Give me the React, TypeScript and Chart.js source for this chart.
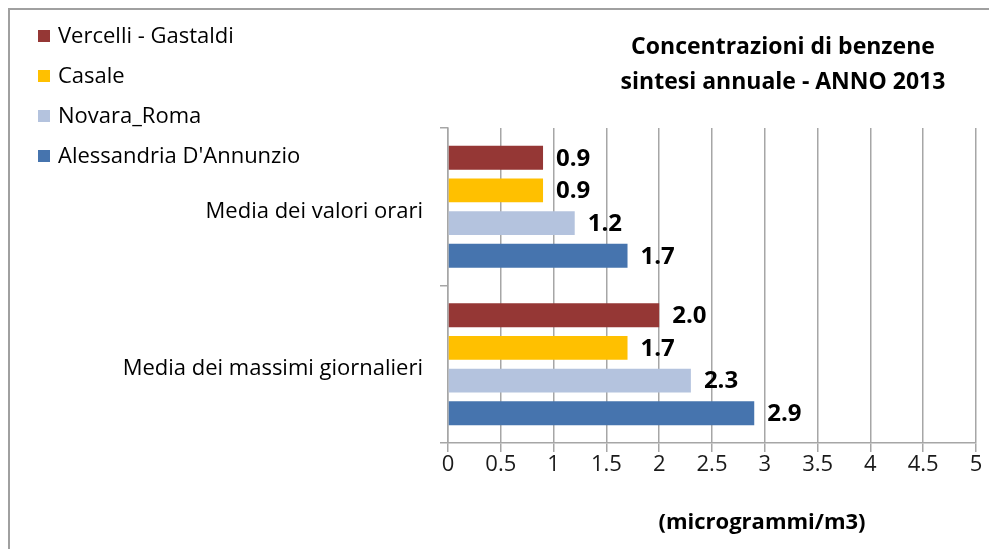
import React, { useEffect, useRef } from "react";
import { Chart, registerables } from "chart.js";

Chart.register(...registerables);

const categories = ["Media dei valori orari", "Media dei massimi giornalieri"];
const seriesNames = ["Vercelli - Gastaldi", "Casale", "Novara_Roma", "Alessandria D'Annunzio"];
const vercelliValues = [0.9, 2.0];
const casaleValues = [0.9, 1.7];
const novaraValues = [1.2, 2.3];
const alessandriaValues = [1.7, 2.9];
const seriesColors = ["#953735", "#FFC000", "#B4C3DE", "#4674AE"];
const xTickValues = [0, 0.5, 1, 1.5, 2, 2.5, 3, 3.5, 4, 4.5, 5];
const titleLines = ["Concentrazioni di benzene", "sintesi annuale - ANNO 2013"];
const axisTitle = "(microgrammi/m3)";

const FONT = "'Open Sans', sans-serif";

const decorPlugin = {
  id: "decor",
  beforeDraw(chart: any) {
    const ctx = chart.ctx;
    ctx.save();
    ctx.fillStyle = "#ffffff";
    ctx.fillRect(0, 0, chart.width, chart.height);
    ctx.strokeStyle = "#a0a0a0";
    ctx.lineWidth = 2;
    ctx.beginPath();
    ctx.moveTo(1, chart.height);
    ctx.lineTo(1, 1);
    ctx.lineTo(chart.width, 1);
    ctx.stroke();
    ctx.restore();
  },
  afterDatasetsDraw(chart: any) {
    const ctx = chart.ctx;
    ctx.save();
    ctx.font = `bold 24px ${FONT}`;
    ctx.fillStyle = "#000000";
    ctx.textBaseline = "middle";
    ctx.textAlign = "left";
    chart.data.datasets.forEach((ds: any, i: number) => {
      const meta = chart.getDatasetMeta(i);
      meta.data.forEach((el: any, j: number) => {
        const v = ds.data[j];
        ctx.fillText(Number(v).toFixed(1), el.x + 13, el.y + 1);
      });
    });
    ctx.restore();
  },
  afterDraw(chart: any) {
    const ctx = chart.ctx;
    ctx.save();
    // legend
    ctx.font = `22px ${FONT}`;
    ctx.textBaseline = "middle";
    ctx.textAlign = "left";
    seriesNames.forEach((name, i) => {
      const cy = 28 + i * 40;
      ctx.fillStyle = seriesColors[i];
      ctx.fillRect(30, cy - 6, 12, 12);
      ctx.fillStyle = "#000000";
      ctx.fillText(name, 50, cy + 1);
    });
    // title
    ctx.font = `bold 23px ${FONT}`;
    ctx.textAlign = "center";
    titleLines.forEach((line, i) => {
      ctx.fillText(line, 775, 39 + i * 35);
    });
    // axis title
    ctx.font = `bold 22px ${FONT}`;
    ctx.fillText(axisTitle, 754, 515);
    ctx.restore();
  },
};

export default function App() {
  const canvasRef = useRef<HTMLCanvasElement | null>(null);

  useEffect(() => {
    const canvas = canvasRef.current;
    if (!canvas) return;
    const seriesValues = [vercelliValues, casaleValues, novaraValues, alessandriaValues];
    const chart = new Chart(canvas, {
      type: "bar",
      data: {
        labels: categories,
        datasets: seriesNames.map((name, i) => ({
          label: name,
          data: seriesValues[i],
          backgroundColor: seriesColors[i],
          borderWidth: 0,
          categoryPercentage: 0.83,
          barPercentage: 0.73,
        })),
      },
      options: {
        indexAxis: "y",
        responsive: false,
        animation: false,
        devicePixelRatio: 1,
        layout: { padding: { top: 120, right: 21, left: 0, bottom: 0 } },
        plugins: {
          legend: { display: false },
          title: { display: false },
          tooltip: { enabled: false },
        },
        scales: {
          x: {
            type: "linear",
            min: 0,
            max: 5,
            afterFit: (s: any) => {
              s.height = 106;
            },
            afterBuildTicks: (s: any) => {
              s.ticks = xTickValues.map((v) => ({ value: v }));
            },
            ticks: {
              color: "#1a1a1a",
              font: { family: FONT, size: 22 },
              padding: 0,
              callback: (v: any) => String(v),
              maxRotation: 0,
              autoSkip: false,
            },
            grid: {
              color: "#a6a6a6",
              lineWidth: 1.5,
              tickLength: 9,
              drawTicks: true,
            },
            border: { color: "#a6a6a6", width: 1.5 },
          },
          y: {
            type: "category",
            afterFit: (s: any) => {
              s.width = 440;
            },
            ticks: {
              color: "#000000",
              font: { family: FONT, size: 22, lineHeight: "9px" },
              padding: 17,
              callback: (v: any, idx: number) => ["", categories[idx]],
            },
            grid: {
              offset: true,
              drawOnChartArea: false,
              drawTicks: true,
              tickLength: 8,
              color: "#a6a6a6",
              lineWidth: 1.5,
            },
            border: { color: "#a6a6a6", width: 1.5 },
          },
        },
      },
      plugins: [decorPlugin],
    } as any);
    return () => chart.destroy();
  }, []);

  return (
    <div style={{ width: 989, height: 541 }}>
      <canvas ref={canvasRef} width={989} height={541} style={{ display: "block" }} />
    </div>
  );
}
